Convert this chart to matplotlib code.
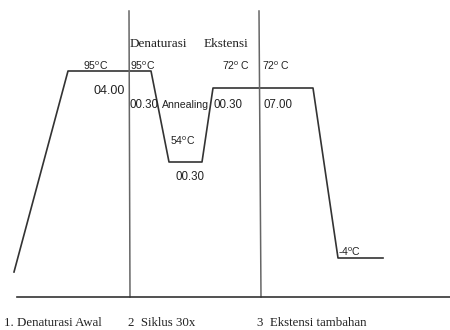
import matplotlib.pyplot as plt

# schematic PCR profile (x = time position, y = temperature level on the sketch)
profile_x = [14, 68, 151, 169, 202, 213, 313, 338, 383]
profile_y = [272, 71, 71, 162, 162, 88, 88, 258, 258]

# stage dividers and base line
divider_x_top = [129, 259]
divider_x_bot = [130, 261]
divider_top = 11
divider_bot = 297
base_y = 297

temp_labels = ["95$^\\mathregular{o}$C", "95$^\\mathregular{o}$C", "72$^\\mathregular{o}$ C",
               "72$^\\mathregular{o}$ C", "54$^\\mathregular{o}$C", "-4$^\\mathregular{o}$C"]
temp_pos = [(83, 66), (130, 66), (222, 66), (262, 66), (170, 141), (338, 252)]

time_labels = ["04.00", "00.30", "00.30", "07.00", "00.30"]
time_pos = [(93, 91), (130, 105), (214, 105), (263, 105), (175, 177)]

stage_labels = ["1. Denaturasi Awal", "2  Siklus 30x", "3  Ekstensi tambahan"]
stage_pos = [(4, 323), (128, 323), (257, 323)]

step_labels = ["Denaturasi", "Ekstensi"]
step_pos = [(130, 44), (204, 44)]

sans = ['Liberation Sans', 'DejaVu Sans']
serif = ['Liberation Serif', 'DejaVu Serif']
plt.rcParams['mathtext.default'] = 'regular'

fig = plt.figure(figsize=(4.5, 3.3), dpi=100)
ax = fig.add_axes([0, 0, 1, 1])
ax.set_xlim(0, 450)
ax.set_ylim(330, 0)
ax.axis('off')

ax.plot(profile_x, profile_y, color='#333333', lw=1.2)
for xt, xb in zip(divider_x_top, divider_x_bot):
    ax.plot([xt, xb], [divider_top, divider_bot], color='#666666', lw=1.1)
ax.plot([17, 450], [base_y, base_y], color='#333333', lw=1.2)

for t, (x, y) in zip(temp_labels, temp_pos):
    ax.text(x, y, t, family=sans, fontsize=7.6, ha='left', va='center', color='#222222')
for t, (x, y) in zip(time_labels, time_pos):
    ax.text(x, y, t, family=sans, fontsize=9 if t == "04.00" else 8.3, ha='left', va='center', color='#222222')
ax.text(162, 105, "Annealing", family=sans, fontsize=7.6, ha='left', va='center', color='#222222')
for t, (x, y) in zip(step_labels, step_pos):
    ax.text(x, y, t, family=serif, fontsize=9.5, ha='left', va='center', color='#222222')
for t, (x, y) in zip(stage_labels, stage_pos):
    ax.text(x, y, t, family=serif, fontsize=9.3, ha='left', va='center', color='#222222')

fig.savefig('out.png', dpi=100)
